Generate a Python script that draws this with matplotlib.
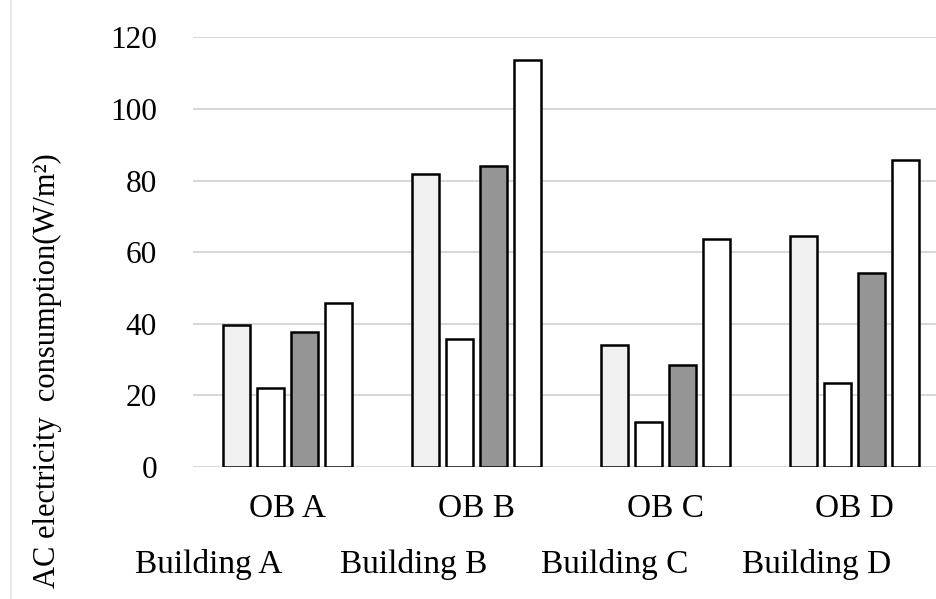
import matplotlib
matplotlib.use("Agg")
import matplotlib.pyplot as plt
import numpy as np
from matplotlib.lines import Line2D

categories = ["OB A", "OB B", "OB C", "OB D"]
series_names = ["Building A", "Building B", "Building C", "Building D"]
building_a = [39.7, 81.9, 34.0, 64.4]
building_b = [22.2, 35.7, 12.6, 23.4]
building_c = [37.6, 84.1, 28.5, 54.3]
building_d = [45.9, 113.8, 63.8, 85.7]
yticks = [0, 20, 40, 60, 80, 100, 120]
ylabel = "AC electricity  consumption(W/m\u00b2)"

colors = ["#f0f0f0", "#ffffff", "#959595", "#ffffff"]

plt.rcParams['font.family'] = ['Liberation Serif', 'DejaVu Serif']

fig = plt.figure(figsize=(9.37, 5.99), dpi=100)
W, H = 937, 599
ax = fig.add_axes([193 / W, 1 - 467 / H, 756 / W, (467 - 37.3) / H])

x = np.arange(len(categories)) + 0.5
width = 0.145
pitch = 0.179
offsets = (np.arange(4) - 1.5) * pitch
for i, vals in enumerate([building_a, building_b, building_c, building_d]):
    ax.bar(x + offsets[i], vals, width=width, color=colors[i], edgecolor="black",
           linewidth=1.8, zorder=3)

ax.set_xlim(0, 4)
ax.set_ylim(0, 120)
ax.set_yticks(yticks)
ax.set_yticklabels([str(t) for t in yticks], fontsize=22.5)
ax.set_xticks(x)
ax.set_xticklabels(categories, fontsize=24)
ax.tick_params(axis='both', length=0)
ax.tick_params(axis='y', pad=26)
ax.tick_params(axis='x', pad=19)
ax.grid(axis='y', color="#d9d9d9", linewidth=1.5, zorder=0)
for s in ax.spines.values():
    s.set_visible(False)

fig.text(47 / W, 1 - 371 / H, ylabel, rotation=90, fontsize=22, ha='center', va='center')

leg_x = [135, 340, 541, 742]
for name, lx in zip(series_names, leg_x):
    fig.text(lx / W, 1 - 565 / H, name, fontsize=24, ha='left', va='center')

fig.add_artist(Line2D([11 / W, 11 / W], [0, 1], color="#e3e3e3", linewidth=1.2,
                      transform=fig.transFigure))

fig.savefig("out.png", dpi=100, facecolor="white")
